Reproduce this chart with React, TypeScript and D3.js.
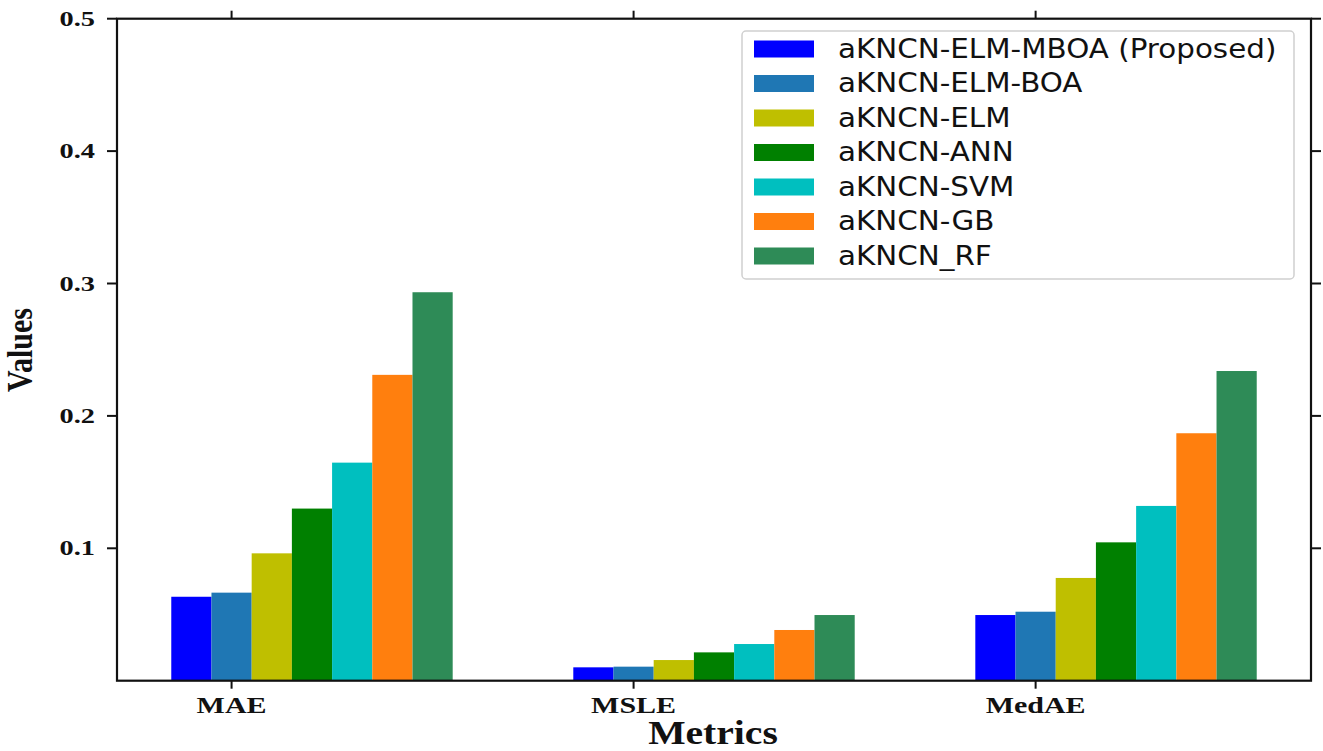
import React from 'react';
import * as d3 from 'd3';

const metrics = ['MAE', 'MSLE', 'MedAE'];
const models = [
    'aKNCN-ELM-MBOA (Proposed)',
    'aKNCN-ELM-BOA',
    'aKNCN-ELM',
    'aKNCN-ANN',
    'aKNCN-SVM',
    'aKNCN-GB',
    'aKNCN_RF',
];
const colors = ['#0000ff', '#1f77b4', '#bfbf00', '#008000', '#00bfbf', '#ff7f0e', '#2e8b57'];

// values per model, in metric order MAE, MSLE, MedAE
const mboa = [0.0634, 0.0101, 0.0496];
const boa = [0.0665, 0.0106, 0.0521];
const elm = [0.0962, 0.0156, 0.0776];
const ann = [0.130, 0.0214, 0.1045];
const svm = [0.1647, 0.0277, 0.132];
const gb = [0.231, 0.0383, 0.1869];
const rf = [0.2934, 0.0496, 0.2339];
const series = [mboa, boa, elm, ann, svm, gb, rf];

const yTicks = [0.1, 0.2, 0.3, 0.4, 0.5];

const width = 1323;
const height = 751;
const left = 117, right = 1311, top = 18.7, bottom = 680.7;
const barW = 0.1;

const App = () => {
    const xScale = d3.scaleLinear().domain([-0.285, 2.685]).range([left, right]);
    const yScale = d3.scaleLinear().domain([0, 0.5]).range([bottom, top]);

    const serif = '"Liberation Serif", "Times New Roman", serif';
    const sans = '"DejaVu Sans", sans-serif';

    return (
        <svg width={width} height={height}
             style={{position: 'absolute', left: 0, top: 0, background: '#fff'}}>
            {/* bars */}
            {series.map((vals, i) => vals.map((v, c) => {
                const x0 = xScale(c + (i - 1) * barW - barW / 2);
                const x1 = xScale(c + (i - 1) * barW + barW / 2);
                return <rect key={`${i}-${c}`} x={x0} y={yScale(v)} width={x1 - x0}
                             height={yScale(0) - yScale(v)} fill={colors[i]}/>;
            }))}

            {/* frame */}
            <rect x={left} y={top} width={right - left} height={bottom - top}
                  fill="none" stroke="#111" strokeWidth={2.2}/>

            {/* y ticks left and right */}
            {yTicks.map(t => (
                <g key={t}>
                    <line x1={left - 10} x2={left} y1={yScale(t)} y2={yScale(t)} stroke="#111" strokeWidth={2}/>
                    <line x1={right} x2={right + 10} y1={yScale(t)} y2={yScale(t)} stroke="#111" strokeWidth={2}/>
                    <text transform={`translate(95,${yScale(t)}) scale(1.35,1)`} textAnchor="end"
                          dominantBaseline="central" fontFamily={serif} fontWeight="bold"
                          fontSize={21} fill="#111">{t.toFixed(1)}</text>
                </g>
            ))}

            {/* x ticks bottom and top */}
            {metrics.map((m, c) => (
                <g key={m}>
                    <line x1={xScale(c)} x2={xScale(c)} y1={bottom} y2={bottom + 8} stroke="#111" strokeWidth={2}/>
                    <line x1={xScale(c)} x2={xScale(c)} y1={top - 8} y2={top} stroke="#111" strokeWidth={2}/>
                    <text transform={`translate(${xScale(c)},713) scale(1.25,1)`} textAnchor="middle"
                          fontFamily={serif} fontWeight="bold" fontSize={24} fill="#111">{m}</text>
                </g>
            ))}

            {/* axis titles */}
            <text transform={`translate(713,744) scale(1.2,1)`} textAnchor="middle"
                  fontFamily={serif} fontWeight="bold" fontSize={33} fill="#111">Metrics</text>
            <text transform={`translate(32,350) rotate(-90) scale(1,1.2)`} textAnchor="middle"
                  fontFamily={serif} fontWeight="bold" fontSize={30} fill="#111">Values</text>

            {/* legend */}
            <rect x={742} y={31} width={552} height={248} rx={4} fill="#fff" fillOpacity={0.85}
                  stroke="#d0d0d0" strokeWidth={1.5}/>
            {models.map((name, i) => {
                const cy = 49 + i * 34.5;
                return (
                    <g key={name}>
                        <rect x={754} y={cy - 8.5} width={60} height={17} fill={colors[i]}/>
                        <text transform={`translate(838,${cy}) scale(1.13,1)`} dominantBaseline="central"
                              fontFamily={sans} fontSize={26} fill="#111">{name}</text>
                    </g>
                );
            })}
        </svg>
    );
};

export default App;
